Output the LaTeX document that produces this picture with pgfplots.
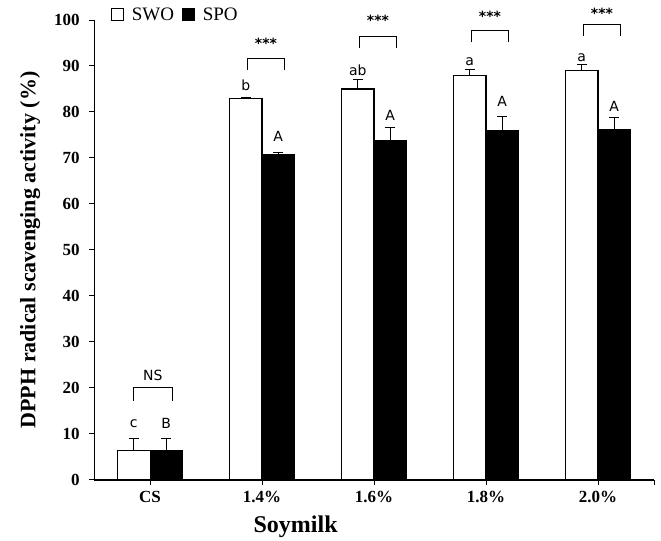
\documentclass[border=0pt]{standalone}
\usepackage{fontspec}
\setmainfont{Liberation Serif}
\newfontfamily\annot{DejaVu Sans}
\usepackage{pgfplots}
\pgfplotsset{compat=1.18}

\begin{document}
\begin{tikzpicture}
\begin{axis}[
    width=560pt, height=460pt, scale only axis,
    ybar, bar width=0.29,
    xmin=-0.5, xmax=4.5,
    ymin=0, ymax=100,
    ytick={0,10,...,100},
    xtick={0,1,2,3,4},
    xticklabels={CS,1.4\%,1.6\%,1.8\%,2.0\%},
    extra x ticks={4.5}, extra x tick labels={},
    axis x line*=bottom, axis y line*=left,
    axis line style={line width=1.1pt, -},
    tick align=outside, major tick length=5pt,
    tick style={line width=1pt, black},
    /pgf/number format/assume math mode=true,
    tick label style={font=\fontsize{17}{17}\selectfont\bfseries},
    yticklabel style={xshift=-6pt},
    xticklabel style={yshift=-3pt},
    ylabel={DPPH radical scavenging activity (\%)},
    xlabel={Soymilk},
    ylabel style={font=\fontsize{22}{24}\selectfont\bfseries, at={(axis description cs:-0.09,0.5)}},
    xlabel style={font=\fontsize{24}{26}\selectfont\bfseries, at={(axis description cs:0.36,-0.07)}},
    clip=false,
    legend columns=2,
    legend style={draw=none, fill=none, at={(axis description cs:0.03,1.012)}, anchor=west,
        font=\fontsize{19}{19}\selectfont, column sep=6pt, inner sep=0pt},
    legend image code/.code={\draw[#1, line width=0.8pt] (0pt,-6pt) rectangle (12pt,6pt);},
    error bars/y dir=plus, error bars/y explicit,
    error bars/error bar style={line width=1pt, black},
    error bars/error mark options={rotate=90, mark size=5pt, line width=1pt, black},
]
\addplot[draw=black, fill=white, line width=1.1pt, bar shift=-0.145] coordinates {
    (0,6.5) +- (0,2.5)
    (1,83.0) +- (0,0.2)
    (2,85.0) +- (0,2.0)
    (3,88.0) +- (0,1.3)
    (4,89.1) +- (0,1.3)
};
\addlegendentry{SWO}
\addplot[draw=black, fill=black, line width=1.1pt, bar shift=0.145] coordinates {
    (0,6.5) +- (0,2.5)
    (1,70.8) +- (0,0.5)
    (2,73.7) +- (0,3.0)
    (3,75.9) +- (0,3.2)
    (4,76.1) +- (0,2.8)
};
\addlegendentry{SPO}

% significance letters
\begin{scope}[every node/.style={font=\annot\fontsize{14}{14}\selectfont}]
\node at (axis cs:-0.145,12.2) {c};
\node at (axis cs:0.145,12.2) {B};
\node at (axis cs:0.855,85.9) {b};
\node at (axis cs:1.145,74.6) {A};
\node at (axis cs:1.855,89.1) {ab};
\node at (axis cs:2.145,79.3) {A};
\node at (axis cs:2.855,90.9) {a};
\node at (axis cs:3.145,82.2) {A};
\node at (axis cs:3.855,91.9) {a};
\node at (axis cs:4.145,81.3) {A};

% brackets
\draw[line width=1pt] (axis cs:-0.15,17.2) |- (axis cs:0.2,20) -- (axis cs:0.2,17.2);
\node at (axis cs:0.025,22.8) {NS};
\draw[line width=1pt] (axis cs:0.87,89.1) |- (axis cs:1.2,91.7) -- (axis cs:1.2,89.1);
\node[font=\annot\bfseries\fontsize{14}{14}\selectfont] at (axis cs:1.035,95) {***};
\draw[line width=1pt] (axis cs:1.87,94) |- (axis cs:2.2,96.5) -- (axis cs:2.2,94);
\node[font=\annot\bfseries\fontsize{14}{14}\selectfont] at (axis cs:2.035,100) {***};
\draw[line width=1pt] (axis cs:2.87,95.2) |- (axis cs:3.2,97.8) -- (axis cs:3.2,95.2);
\node[font=\annot\bfseries\fontsize{14}{14}\selectfont] at (axis cs:3.035,100.7) {***};
\draw[line width=1pt] (axis cs:3.87,96.5) |- (axis cs:4.2,99.1) -- (axis cs:4.2,96.5);
\node[font=\annot\bfseries\fontsize{14}{14}\selectfont] at (axis cs:4.035,101.5) {***};
\end{scope}

% fix page extent to the reference proportions
\path (axis description cs:-0.168,-0.1304) rectangle (axis description cs:1.0125,1.0435);
\end{axis}
\end{tikzpicture}
\end{document}
